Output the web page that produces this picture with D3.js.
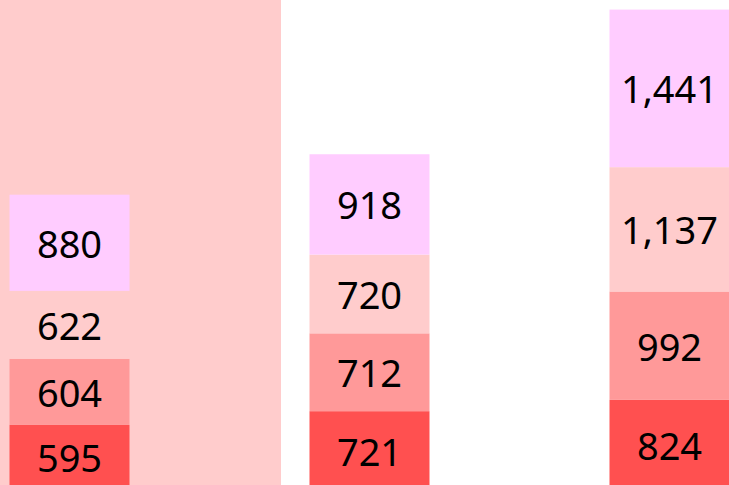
<!DOCTYPE html>
<html>
<head>
<meta charset="utf-8">
<style>
  body { margin: 0; background: #fff; }
  svg { display: block; }
  .seg-label { font-family: "Noto Sans", "Open Sans", sans-serif; font-size: 38px; fill: #000; }
</style>
</head>
<body>
<svg class="chart" width="729" height="485"></svg>

<script src="https://cdn.jsdelivr.net/npm/d3@7"></script>
<script>
  // categories (one stacked bar each) and the four stacked series, bottom to top
  const categories = ["A", "B", "C"];
  const seriesKeys = ["s1", "s2", "s3", "s4"];
  const s1 = [595, 721, 824];
  const s2 = [604, 712, 992];
  const s3 = [622, 720, 1137];
  const s4 = [880, 918, 1441];
  const seriesColors = ["#ff5050", "#ff9999", "#ffcccc", "#ffccff"];

  const width = 729;
  const height = 485;

  const rows = categories.map((c, i) => ({ cat: c, s1: s1[i], s2: s2[i], s3: s3[i], s4: s4[i] }));
  const stacked = d3.stack().keys(seriesKeys)(rows);

  // step 300, bar 120
  const x = d3.scaleBand()
    .domain(categories)
    .range([9.5, 729.5])
    .paddingInner(0.6)
    .paddingOuter(0);

  const y = d3.scaleLinear()
    .domain([0, 4500])
    .range([490, -2]);

  const color = d3.scaleOrdinal().domain(seriesKeys).range(seriesColors);

  const svg = d3.select("svg.chart");

  // highlight band behind the first category
  svg.append("rect")
    .attr("x", 0)
    .attr("y", 0)
    .attr("width", 281)
    .attr("height", height)
    .attr("fill", "#ffcccc");

  const layer = svg.append("g")
    .selectAll("g")
    .data(stacked)
    .join("g")
    .attr("fill", d => color(d.key));

  layer.selectAll("rect")
    .data(d => d)
    .join("rect")
    .attr("x", d => x(d.data.cat))
    .attr("y", d => y(d[1]))
    .attr("width", x.bandwidth())
    .attr("height", d => y(d[0]) - y(d[1]));

  const fmt = d3.format(",");

  svg.append("g")
    .selectAll("text")
    .data(stacked.flatMap(s => s.map(d => ({ d, key: s.key }))))
    .join("text")
    .attr("class", "seg-label")
    .attr("x", p => x(p.d.data.cat) + x.bandwidth() / 2)
    .attr("y", p => (y(p.d[0]) + y(p.d[1])) / 2)
    .attr("text-anchor", "middle")
    .attr("dominant-baseline", "central")
    .text(p => fmt(p.d[1] - p.d[0]));
</script>
</body>
</html>
